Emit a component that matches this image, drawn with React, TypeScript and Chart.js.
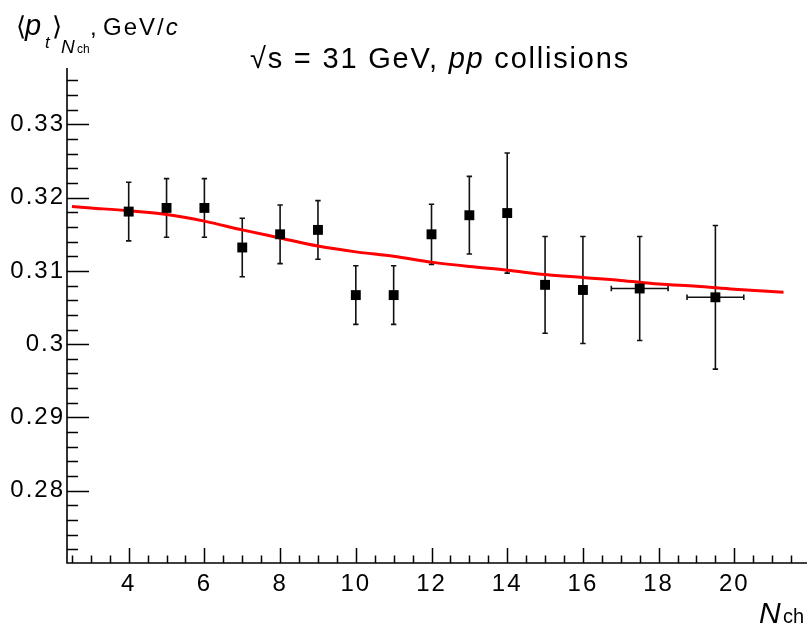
import React, { useEffect, useRef } from "react";
import { Chart, registerables } from "chart.js";

Chart.register(...registerables);

// ---- data ----
const nch = [4, 5, 6, 7, 8, 9, 10, 11, 12, 13, 14, 15, 16, 17.5, 19.5];
const meanPt = [0.3181, 0.3186, 0.3186, 0.3132, 0.315, 0.3156, 0.3067, 0.3067, 0.315, 0.3176, 0.3179, 0.3081, 0.3074, 0.3076, 0.3064];
const meanPtErr = [0.004, 0.004, 0.004, 0.004, 0.004, 0.004, 0.004, 0.004, 0.0041, 0.0053, 0.0082, 0.0066, 0.0073, 0.0071, 0.0098];
const nchErr = [0, 0, 0, 0, 0, 0, 0, 0, 0, 0, 0, 0, 0, 0.75, 0.75];

const fitNch = [2.5, 3, 4, 5, 6, 7, 8, 9, 10, 11, 12, 13, 14, 15, 16, 17, 18, 19, 20, 21.3];
const fitPt = [0.3188, 0.3186, 0.3182, 0.3177, 0.3168, 0.3156, 0.3145, 0.3134, 0.3126, 0.312, 0.3112, 0.3106, 0.3101, 0.3095, 0.3091, 0.3087, 0.3082, 0.3079, 0.3075, 0.3071];

const xTickValues = [4, 6, 8, 10, 12, 14, 16, 18, 20];
const yTickValues = [0.28, 0.29, 0.3, 0.31, 0.32, 0.33];

const X_MIN = 2.37;
const X_MAX = 21.92;
const Y_MIN = 0.27013;
const Y_MAX = 0.3377;

const FONT = "'Liberation Sans', Arial, Helvetica, sans-serif";

type Run = { text: string; size: number; italic?: boolean; dy?: number; x?: number; sp?: number };

function setFont(ctx: CanvasRenderingContext2D, r: Run, spacing: number) {
  ctx.font = `${r.italic ? "italic " : ""}${r.size}px ${FONT}`;
  (ctx as any).letterSpacing = `${r.sp !== undefined ? r.sp : spacing}px`;
}

function drawRuns(ctx: CanvasRenderingContext2D, runs: Run[], x0: number, baseline: number, spacing: number) {
  let cx = x0;
  for (const r of runs) {
    setFont(ctx, r, spacing);
    if (r.x !== undefined) cx = r.x;
    ctx.fillText(r.text, cx, baseline + (r.dy || 0));
    cx += ctx.measureText(r.text).width;
  }
}

function runsWidth(ctx: CanvasRenderingContext2D, runs: Run[], spacing: number) {
  let w = 0;
  for (const r of runs) {
    setFont(ctx, r, spacing);
    w += ctx.measureText(r.text).width;
  }
  return w;
}

const errorBars = {
  id: "errorBars",
  beforeDatasetsDraw(chart: any) {
    const { ctx, scales } = chart;
    (ctx as any).letterSpacing = "0px";
    const xs = scales.x;
    const ys = scales.y;
    ctx.save();
    ctx.strokeStyle = "#111";
    ctx.lineWidth = 1.6;
    for (let i = 0; i < nch.length; i++) {
      const px = xs.getPixelForValue(nch[i]);
      const py = ys.getPixelForValue(meanPt[i]);
      const top = ys.getPixelForValue(meanPt[i] + meanPtErr[i]);
      const bot = ys.getPixelForValue(meanPt[i] - meanPtErr[i]);
      ctx.beginPath();
      ctx.moveTo(px, top);
      ctx.lineTo(px, bot);
      ctx.moveTo(px - 2.7, top);
      ctx.lineTo(px + 2.7, top);
      ctx.moveTo(px - 2.7, bot);
      ctx.lineTo(px + 2.7, bot);
      if (nchErr[i] > 0) {
        const l = xs.getPixelForValue(nch[i] - nchErr[i]);
        const r = xs.getPixelForValue(nch[i] + nchErr[i]);
        ctx.moveTo(l, py);
        ctx.lineTo(r, py);
        ctx.moveTo(l, py - 2.7);
        ctx.lineTo(l, py + 2.7);
        ctx.moveTo(r, py - 2.7);
        ctx.lineTo(r, py + 2.7);
      }
      ctx.stroke();
    }
    ctx.restore();
  },
};

const rootAxes = {
  id: "rootAxes",
  beforeDraw(chart: any) {
    // ROOT-like wider letter spacing for the tick labels
    (chart.ctx as any).letterSpacing = "2px";
  },
  afterDraw(chart: any) {
    const { ctx, chartArea: a, scales } = chart;
    const xs = scales.x;
    const ys = scales.y;
    ctx.save();
    (ctx as any).letterSpacing = "0px";
    ctx.strokeStyle = "#000";
    ctx.lineWidth = 1.5;
    ctx.beginPath();
    // x ticks every 0.5, major every 2
    for (let i = Math.ceil(X_MIN * 2); i / 2 <= X_MAX; i++) {
      const v = i / 2;
      const px = Math.round(xs.getPixelForValue(v)) + 0.5;
      const major = i % 4 === 0;
      ctx.moveTo(px, a.bottom);
      ctx.lineTo(px, a.bottom - (major ? 15 : 7.5));
    }
    // y ticks every 0.002, major every 0.01
    for (let i = Math.ceil(Y_MIN / 0.002 - 1e-6); i * 0.002 <= Y_MAX + 1e-9; i++) {
      const py = Math.round(ys.getPixelForValue(i * 0.002)) + 0.5;
      const major = i % 5 === 0;
      ctx.moveTo(a.left, py);
      ctx.lineTo(a.left + (major ? 22 : 11), py);
    }
    ctx.stroke();
    // axis lines
    ctx.lineWidth = 1.6;
    ctx.beginPath();
    ctx.moveTo(a.left, a.top);
    ctx.lineTo(a.left, a.bottom);
    ctx.lineTo(a.right, a.bottom);
    ctx.stroke();

    // texts
    ctx.fillStyle = "#000";
    ctx.textBaseline = "alphabetic";
    ctx.textAlign = "left";

    // title
    const titleRuns: Run[] = [
      { text: "\u221As", size: 29 },
      { text: " = 31 GeV, ", size: 29 },
      { text: "pp", size: 29, italic: true },
      { text: " collisions", size: 29 },
    ];
    const sp = 1.8;
    const tw = runsWidth(ctx, titleRuns, sp);
    const tx = 440 - tw / 2;
    drawRuns(ctx, titleRuns, tx, 68, sp);

    // y-axis title
    const yRuns: Run[] = [
      { text: "\u27E8", size: 26, x: 16 },
      { text: "p", size: 29, italic: true, x: 25 },
      { text: "t", size: 17, italic: true, dy: 13, x: 45 },
      { text: "\u27E9", size: 26, x: 52 },
      { text: "N", size: 19, italic: true, dy: 18, x: 61 },
      { text: "ch", size: 12, dy: 18, x: 77 },
      { text: ",", size: 24, x: 90 },
      { text: "GeV/", size: 24, x: 103, sp: 2 },
      { text: "c", size: 24, italic: true, sp: 2 },
    ];
    drawRuns(ctx, yRuns, 16, 35, 0);

    // x-axis title
    const xRuns: Run[] = [
      { text: "N", size: 30, italic: true, x: 759 },
      { text: "ch", size: 20, x: 783 },
    ];
    drawRuns(ctx, xRuns, 759, 623, 0);
    ctx.restore();
    (ctx as any).letterSpacing = "0px";
  },
};

export default function App() {
  const ref = useRef<HTMLCanvasElement | null>(null);

  useEffect(() => {
    document.body.style.margin = "0";
    const canvas = ref.current;
    if (!canvas) return;
    const chart = new Chart(canvas, {
      type: "scatter",
      data: {
        datasets: [
          {
            label: "data",
            data: nch.map((x, i) => ({ x, y: meanPt[i] })),
            pointStyle: "rect",
            pointRadius: 7,
            pointHoverRadius: 7,
            backgroundColor: "#000",
            borderColor: "#000",
            borderWidth: 0,
            showLine: false,
            order: 1,
          },
          {
            label: "fit",
            type: "line",
            data: fitNch.map((x, i) => ({ x, y: fitPt[i] })),
            borderColor: "#ff0000",
            borderWidth: 3,
            pointRadius: 0,
            fill: false,
            cubicInterpolationMode: "monotone",
            order: 2,
          } as any,
        ],
      },
      options: {
        animation: false,
        responsive: false,
        devicePixelRatio: 1,
        layout: { autoPadding: false, padding: { top: 68, left: 0, right: 0, bottom: 0 } },
        plugins: {
          legend: { display: false },
          tooltip: { enabled: false },
          title: { display: false },
        },
        scales: {
          x: {
            type: "linear",
            min: X_MIN,
            max: X_MAX,
            grid: { display: false, drawTicks: false },
            border: { display: false },
            afterBuildTicks: (s: any) => {
              s.ticks = xTickValues.map((v) => ({ value: v }));
            },
            afterFit: (s: any) => {
              s.height = 64;
              s.paddingLeft = 0;
              s.paddingRight = 0;
            },
            ticks: {
              padding: 7,
              maxRotation: 0,
              autoSkip: false,
              color: "#000",
              font: { family: FONT, size: 24 },
              callback: (v: any) => String(v),
            },
          },
          y: {
            type: "linear",
            min: Y_MIN,
            max: Y_MAX,
            grid: { display: false, drawTicks: false },
            border: { display: false },
            afterBuildTicks: (s: any) => {
              s.ticks = yTickValues.map((v) => ({ value: v }));
            },
            afterFit: (s: any) => {
              s.width = 67;
              s.paddingTop = 0;
              s.paddingBottom = 0;
            },
            ticks: {
              padding: 2,
              autoSkip: false,
              color: "#000",
              font: { family: FONT, size: 24 },
              callback: (v: any) => String(Number(Number(v).toFixed(2))),
            },
          },
        },
      },
      plugins: [errorBars, rootAxes],
    });
    return () => chart.destroy();
  }, []);

  return (
    <div style={{ width: 807, height: 627 }}>
      <canvas ref={ref} width={807} height={627} style={{ display: "block" }} />
    </div>
  );
}
